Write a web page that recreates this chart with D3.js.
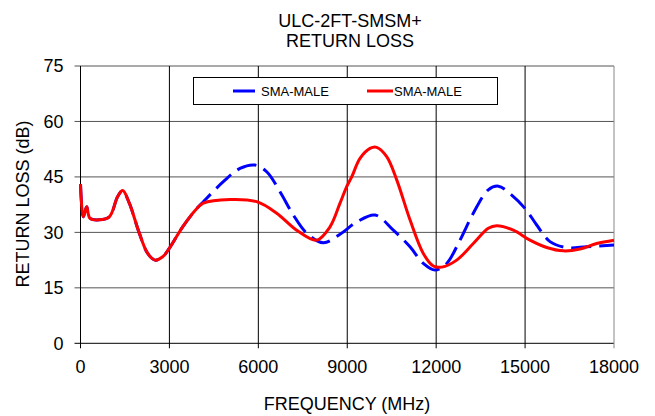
<!DOCTYPE html>
<html lang="en">
<head>
    <meta charset="UTF-8">
    <title>ULC-2FT-SMSM+ Return Loss</title>
    <script src="https://d3js.org/d3.v7.min.js"></script>
    <style>
        body {
            margin: 0;
            padding: 0;
            background: #fff;
            font-family: "Liberation Sans", Arial, sans-serif;
        }
        .tick text {
            font-size: 18px;
            fill: #000;
        }
        .title, .axis-title {
            font-size: 18px;
            fill: #000;
        }
        .legend text {
            font-size: 13px;
            fill: #000;
        }
    </style>
</head>
<body>
<div id="chart"></div>
<script>

    // series names (both connectors labelled the same in the original)
    const seriesNames = ["SMA-MALE", "SMA-MALE"];

    // blue dashed series
    const blueFreq = [0, 95, 209, 320, 635, 972, 1255, 1424, 1647, 1984, 2267, 2514, 2773, 2996, 3447, 3897,
        4144, 4818, 5381, 5888, 6282, 6731, 7180, 7632, 8192, 8756, 9319, 9937, 10554, 11117, 11566, 11961,
        12355, 12804, 13253, 13759, 14097, 14548, 14997, 15392, 15841, 16404, 17079, 18000];
    const blueLoss = [43.1, 34.2, 36.9, 33.8, 33.4, 34.2, 39.7, 41.3, 37.9, 29.8, 24.3, 22.5, 23.4, 25.7, 31.5, 36.2,
        38.3, 43.7, 47.3, 48.2, 46.4, 41.0, 34.7, 29.8, 27.2, 29.5, 32.8, 34.7, 30.6, 26.1, 21.6, 19.8,
        21.6, 27.9, 35.2, 41.5, 42.5, 40.1, 36.5, 32.0, 27.5, 25.9, 26.1, 26.6];

    // red solid series
    const redFreq = [0, 95, 209, 320, 635, 972, 1255, 1424, 1647, 1984, 2267, 2514, 2773, 2996, 3447, 3897,
        4144, 5044, 5944, 6619, 7294, 7969, 8418, 8756, 8981, 9150, 9431, 9768, 9993, 10331, 10669, 11117,
        11566, 11904, 12187, 12693, 13253, 13759, 14042, 14603, 15166, 15729, 16290, 16853, 17416, 18000];
    const redLoss = [43.1, 34.2, 36.9, 33.8, 33.4, 34.2, 39.7, 41.3, 37.9, 29.8, 24.3, 22.5, 23.4, 25.7, 31.5, 36.2,
        37.9, 38.9, 38.3, 35.2, 30.6, 27.9, 31.5, 37.9, 42.4, 45.0, 50.0, 52.7, 53.0, 50.5, 44.2, 33.4,
        24.3, 20.9, 20.6, 22.5, 27.0, 31.1, 31.8, 30.6, 27.9, 25.9, 25.0, 25.5, 27.0, 27.9];

    const xTicks = [0, 3000, 6000, 9000, 12000, 15000, 18000];
    const yTicks = [0, 15, 30, 45, 60, 75];

    const width = 655, height = 416;
    const plotLeft = 80.5, plotRight = 614, plotTop = 66, plotBottom = 343.3;

    const svg = d3.select("#chart")
        .append("svg")
        .attr("width", width)
        .attr("height", height);

    const x = d3.scaleLinear().domain([0, 18000]).range([plotLeft, plotRight]);
    const y = d3.scaleLinear().domain([0, 75]).range([plotBottom, plotTop]);

    // horizontal grid (extends left as tick marks)
    svg.append("g")
        .selectAll("line")
        .data(yTicks)
        .enter()
        .append("line")
        .attr("x1", plotLeft - 6)
        .attr("x2", plotRight)
        .attr("y1", d => y(d))
        .attr("y2", d => y(d))
        .attr("stroke", d => d === 0 ? "#000" : "#555")
        .attr("stroke-width", 1);

    // vertical grid (extends down as tick marks)
    svg.append("g")
        .selectAll("line")
        .data(xTicks)
        .enter()
        .append("line")
        .attr("x1", d => x(d))
        .attr("x2", d => x(d))
        .attr("y1", plotTop)
        .attr("y2", plotBottom + 5)
        .attr("stroke", d => d === 18000 ? "#888" : "#000")
        .attr("stroke-width", 1);

    // y tick labels
    svg.append("g")
        .attr("class", "tick")
        .selectAll("text")
        .data(yTicks)
        .enter()
        .append("text")
        .attr("x", plotLeft - 17)
        .attr("y", d => y(d))
        .attr("dy", "0.35em")
        .attr("text-anchor", "end")
        .text(d => d);

    // x tick labels
    svg.append("g")
        .attr("class", "tick")
        .selectAll("text")
        .data(xTicks)
        .enter()
        .append("text")
        .attr("x", d => x(d))
        .attr("y", 373)
        .attr("text-anchor", "middle")
        .text(d => d);

    // lines
    const line = d3.line()
        .x(d => x(d[0]))
        .y(d => y(d[1]))
        .curve(d3.curveCatmullRom.alpha(0.5));

    const blueData = blueFreq.map((f, i) => [f, blueLoss[i]]);
    const redData = redFreq.map((f, i) => [f, redLoss[i]]);

    svg.append("path")
        .datum(blueData)
        .attr("d", line)
        .attr("fill", "none")
        .attr("stroke", "#0000ff")
        .attr("stroke-width", 3)
        .attr("stroke-dasharray", "20,8");

    svg.append("path")
        .datum(redData)
        .attr("d", line)
        .attr("fill", "none")
        .attr("stroke", "#ff0000")
        .attr("stroke-width", 3);

    // titles
    svg.append("text")
        .attr("class", "title")
        .attr("x", 350)
        .attr("y", 26.5)
        .attr("text-anchor", "middle")
        .text("ULC-2FT-SMSM+");
    svg.append("text")
        .attr("class", "title")
        .attr("x", 350)
        .attr("y", 46.5)
        .attr("text-anchor", "middle")
        .text("RETURN LOSS");

    svg.append("text")
        .attr("class", "axis-title")
        .attr("x", 347)
        .attr("y", 404)
        .attr("dy", "0.35em")
        .attr("text-anchor", "middle")
        .text("FREQUENCY (MHz)");

    svg.append("text")
        .attr("class", "axis-title")
        .attr("transform", "translate(23,204) rotate(-90)")
        .attr("dy", "0.35em")
        .attr("text-anchor", "middle")
        .text("RETURN LOSS (dB)");

    // legend
    const legend = svg.append("g").attr("class", "legend");
    legend.append("rect")
        .attr("x", 193.5)
        .attr("y", 77.5)
        .attr("width", 304)
        .attr("height", 27)
        .attr("fill", "#fff")
        .attr("stroke", "#000")
        .attr("stroke-width", 1);

    const legendItems = [
        {name: seriesNames[0], color: "#0000ff", x1: 233, x2: 255, tx: 261},
        {name: seriesNames[1], color: "#ff0000", x1: 367, x2: 393, tx: 394}
    ];
    legendItems.forEach(d => {
        legend.append("line")
            .attr("x1", d.x1)
            .attr("x2", d.x2)
            .attr("y1", 91)
            .attr("y2", 91)
            .attr("stroke", d.color)
            .attr("stroke-width", 3);
        legend.append("text")
            .attr("x", d.tx)
            .attr("y", 91)
            .attr("dy", "0.35em")
            .text(d.name);
    });

</script>
</body>
</html>
